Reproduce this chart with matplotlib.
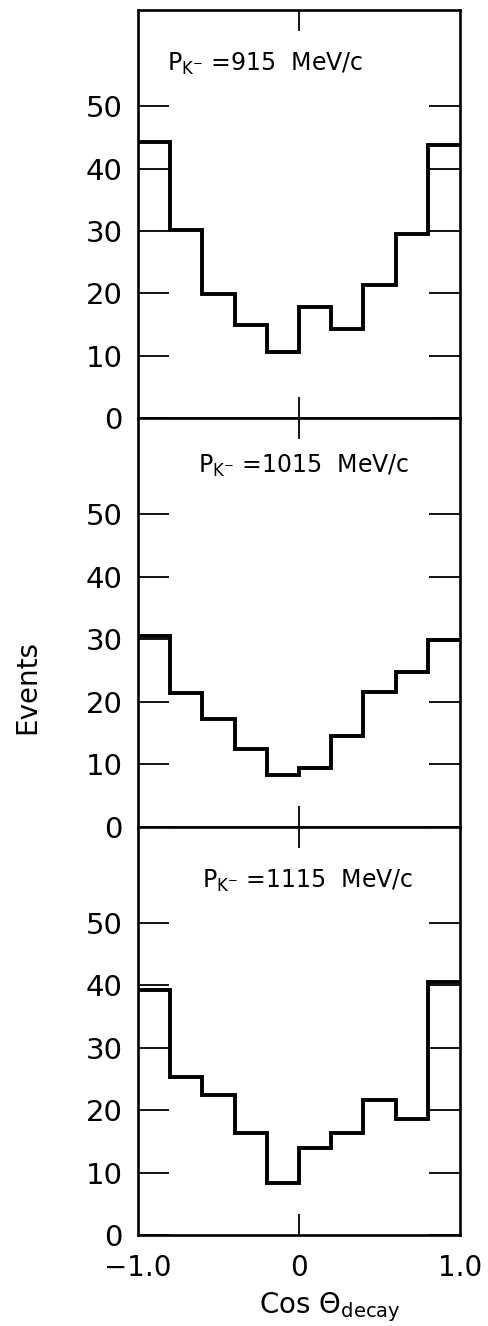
import matplotlib
matplotlib.use("Agg")
import matplotlib.pyplot as plt
import numpy as np

bin_edges = [-1.0, -0.8, -0.6, -0.4, -0.2, 0.0, 0.2, 0.4, 0.6, 0.8, 1.0]
events_915 = [44.2, 30.2, 19.9, 14.9, 10.6, 17.9, 14.3, 21.3, 29.5, 43.7]
events_1015 = [30.6, 21.4, 17.2, 12.5, 8.3, 9.4, 14.5, 21.6, 24.7, 29.9]
events_1115 = [39.3, 25.3, 22.5, 16.3, 8.3, 14.0, 16.4, 21.6, 18.6, 40.5]
panel_labels = ["915", "1015", "1115"]
y_ticks = [0, 10, 20, 30, 40, 50]
x_ticks = [-1.0, 0.0, 1.0]
x_tick_labels = ["\u22121.0", "0", "1.0"]

plt.rcParams['font.family'] = ['DejaVu Sans']
plt.rcParams['mathtext.fontset'] = 'dejavusans'

fig = plt.figure(figsize=(4.89, 13.26), dpi=100)
left = 138 / 489
right = 460 / 489
top = 1 - 10 / 1326
bottom = 1 - 1235 / 1326
h = (top - bottom) / 3

series = [events_915, events_1015, events_1115]
label_pos = [(167, 64), (198, 466), (202, 881)]

axes = []
for i, vals in enumerate(series):
    y0 = top - (i + 1) * h
    ax = fig.add_axes([left, y0, right - left, h])
    axes.append(ax)
    ax.stairs(vals, bin_edges, baseline=None, color='black', linewidth=2.8)
    ax.set_xlim(-1, 1)
    ax.set_ylim(0, 65.4)
    for s in ax.spines.values():
        s.set_linewidth(1.9)
    ax.set_yticks(y_ticks)
    ax.set_yticklabels([str(t) for t in y_ticks])
    ax.tick_params(axis='y', direction='in', length=22, width=1.3,
                   left=True, right=True, labelsize=21, pad=11)
    ax.set_xticks([0.0])
    ax.tick_params(axis='x', direction='in', length=15, width=1.3,
                   top=True, bottom=True, labelbottom=False)
    lx, ly = label_pos[i]
    fig.text(lx / 489, 1 - ly / 1326,
             r"$\mathregular{P_{K^{-}}}$ =" + panel_labels[i] + "  MeV/c",
             fontsize=17, ha='left', va='center')

ax = axes[-1]
ax.set_xticks(x_ticks)
ax.set_xticklabels(x_tick_labels)
ax.tick_params(axis='x', labelbottom=True, labelsize=20, pad=14)
for k in (0, 2):
    ax.xaxis.get_major_ticks()[k].tick1line.set_visible(False)
    ax.xaxis.get_major_ticks()[k].tick2line.set_visible(False)

fig.text(27 / 489, 1 - 687 / 1326, "Events", rotation=90, fontsize=20,
         ha='center', va='center')
fig.text(330 / 489, 1 - 1307 / 1326, r"Cos $\Theta_{\mathrm{decay}}$",
         fontsize=20, ha='center', va='center')

fig.savefig("out.png", dpi=100)
